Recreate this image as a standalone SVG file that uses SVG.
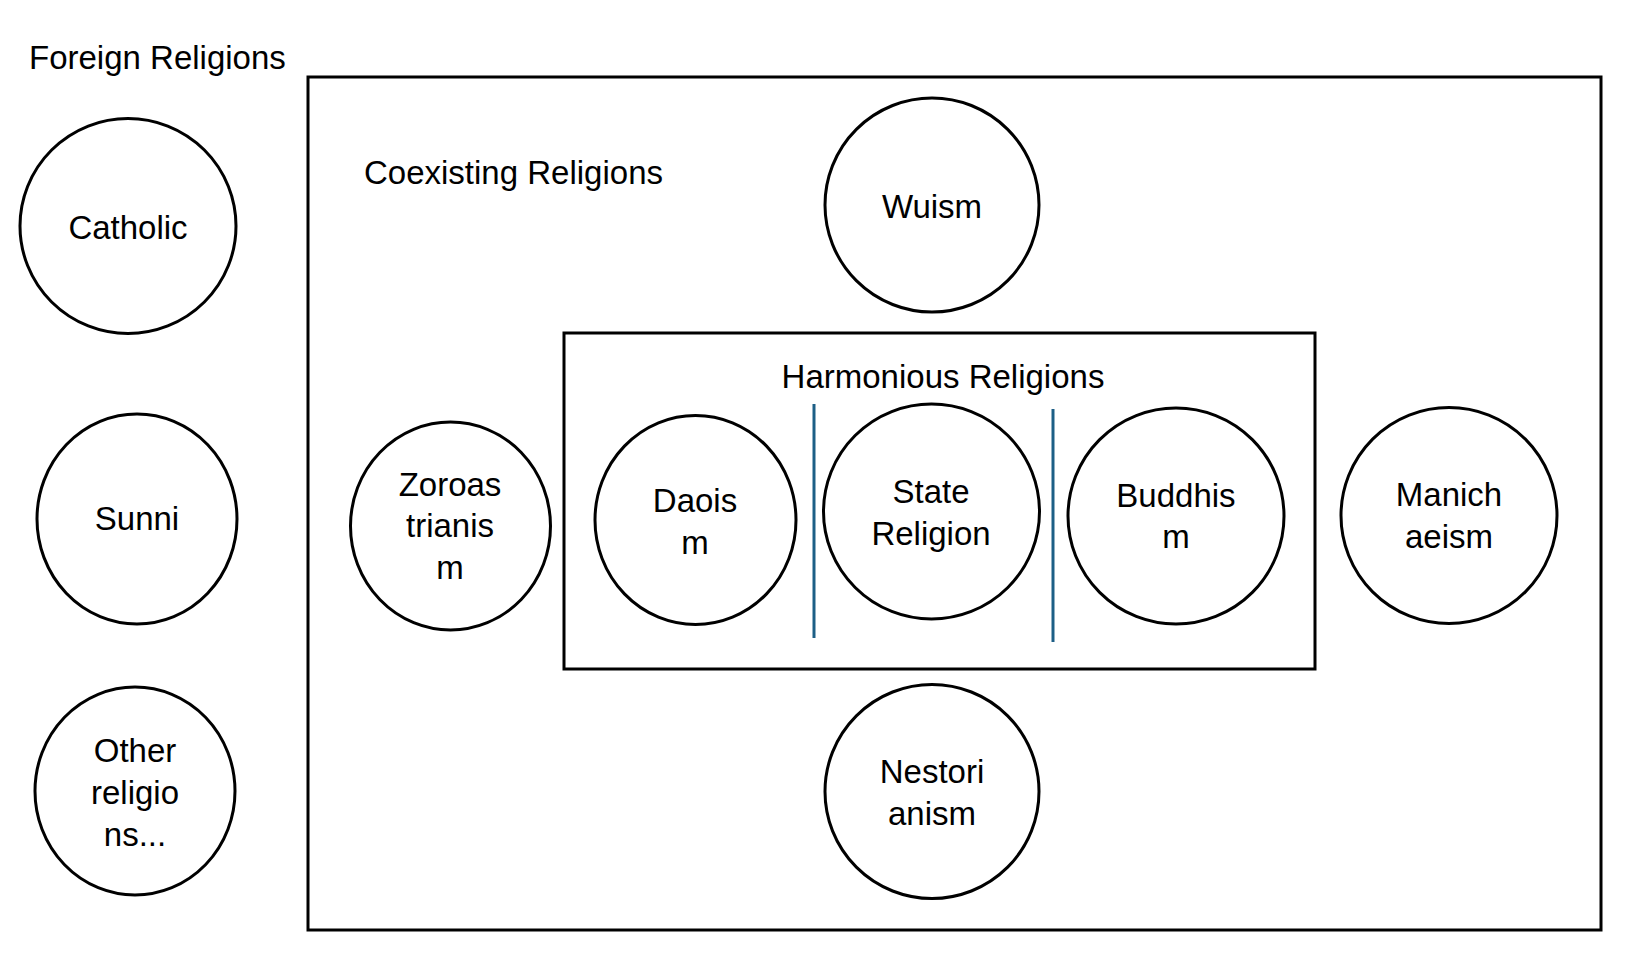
<svg xmlns="http://www.w3.org/2000/svg" width="1643" height="971" viewBox="0 0 1643 971">
<style>
.bg{fill:#ffffff}
.box{fill:none;stroke:#000;stroke-width:3}
.node{fill:#fff;stroke:#000;stroke-width:3}
.t{font-family:"Liberation Sans",Arial,sans-serif;font-size:33px;fill:#000}
.c{text-anchor:middle}
.sep{stroke:#1d5f86;stroke-width:3}
</style>
<rect class="bg" x="0" y="0" width="1643" height="971"/>
<g id="foreign">
<text class="t" x="29" y="69">Foreign Religions</text>
</g>
<g id="coexisting">
<rect class="box" x="308" y="77" width="1293" height="853"/>
<text class="t" x="364" y="184">Coexisting Religions</text>
</g>
<g id="harmonious">
<rect class="box" x="564" y="333" width="751" height="336"/>
<text class="t c" x="943" y="388">Harmonious Religions</text>
</g>
<g id="connectors">
<line class="sep" x1="814" y1="404" x2="814" y2="638"/>
<line class="sep" x1="1053" y1="409" x2="1053" y2="642"/>
</g>
<g id="catholic">
<ellipse class="node" cx="128" cy="226" rx="108" ry="107.5"/>
<text class="t c" x="128" y="239">Catholic</text>
</g>
<g id="sunni">
<ellipse class="node" cx="137" cy="519" rx="100" ry="105"/>
<text class="t c" x="137" y="530">Sunni</text>
</g>
<g id="other">
<ellipse class="node" cx="135" cy="791" rx="100" ry="104"/>
<text class="t c" x="135" y="762">Other</text>
<text class="t c" x="135" y="804">religio</text>
<text class="t c" x="135" y="846">ns...</text>
</g>
<g id="wuism">
<ellipse class="node" cx="932" cy="205" rx="107" ry="107"/>
<text class="t c" x="932" y="218">Wuism</text>
</g>
<g id="zoroastrianism">
<ellipse class="node" cx="450.5" cy="526" rx="100" ry="104"/>
<text class="t c" x="450" y="496">Zoroas</text>
<text class="t c" x="450" y="537">trianis</text>
<text class="t c" x="450" y="579">m</text>
</g>
<g id="daoism">
<ellipse class="node" cx="695.5" cy="520" rx="100.5" ry="104.5"/>
<text class="t c" x="695" y="512">Daois</text>
<text class="t c" x="695" y="554">m</text>
</g>
<g id="state">
<ellipse class="node" cx="931.5" cy="511.5" rx="108" ry="107.5"/>
<text class="t c" x="931" y="503">State</text>
<text class="t c" x="931" y="545">Religion</text>
</g>
<g id="buddhism">
<ellipse class="node" cx="1176" cy="516" rx="108" ry="108"/>
<text class="t c" x="1176" y="507">Buddhis</text>
<text class="t c" x="1176" y="548">m</text>
</g>
<g id="manichaeism">
<ellipse class="node" cx="1449" cy="515.5" rx="108" ry="108"/>
<text class="t c" x="1449" y="506">Manich</text>
<text class="t c" x="1449" y="548">aeism</text>
</g>
<g id="nestorianism">
<ellipse class="node" cx="932" cy="791.5" rx="107" ry="107"/>
<text class="t c" x="932" y="783">Nestori</text>
<text class="t c" x="932" y="825">anism</text>
</g>
</svg>
